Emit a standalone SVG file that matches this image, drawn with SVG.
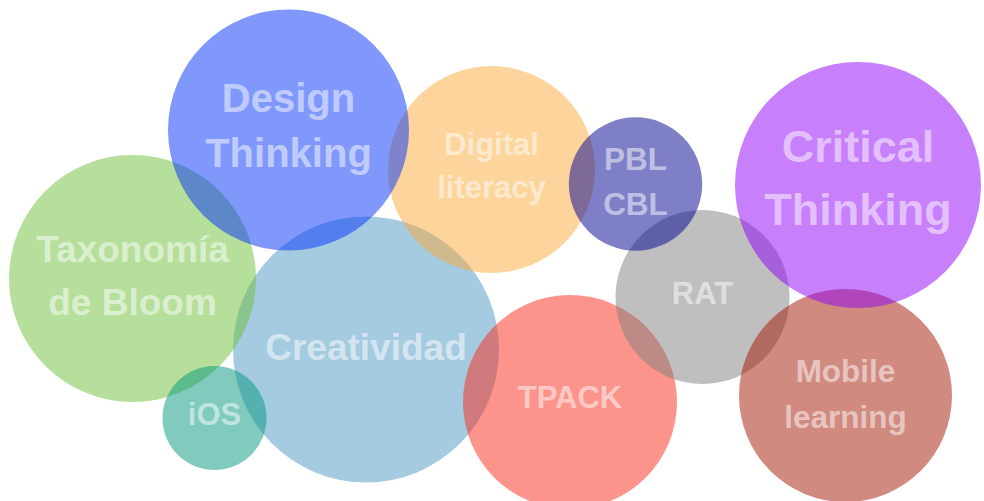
<svg xmlns="http://www.w3.org/2000/svg" width="984" height="501" viewBox="0 0 984 501">
<style>
.b{opacity:0.5}
.t{font-family:"Liberation Sans",Arial,Helvetica,sans-serif;font-weight:bold;fill:#ffffff;fill-opacity:0.5;text-anchor:middle}
</style>
<rect width="984" height="501" fill="#ffffff"/>
<g id="creatividad">
<circle class="b" cx="366" cy="349.5" r="133" fill="#4b97c3"/>
<text class="t" font-size="37" x="366" y="360">Creatividad</text>
</g>
<g id="taxonomia">
<circle class="b" cx="132.5" cy="278.5" r="123.5" fill="#6dbf37"/>
<text class="t" font-size="37" x="132.5" y="262">Taxonomía</text>
<text class="t" font-size="37" x="132.5" y="315">de Bloom</text>
</g>
<g id="ios">
<circle class="b" cx="214.5" cy="418" r="52" fill="#01977d"/>
<text class="t" font-size="31" x="214.5" y="425">iOS</text>
</g>
<g id="tpack">
<circle class="b" cx="570" cy="402" r="107" fill="#fb2919"/>
<text class="t" font-size="31" x="570" y="408">TPACK</text>
</g>
<g id="rat">
<circle class="b" cx="702.5" cy="297" r="87" fill="#7f7f7f"/>
<text class="t" font-size="31" x="702.5" y="304">RAT</text>
</g>
<g id="mobile-learning">
<circle class="b" cx="845.5" cy="395.5" r="106.5" fill="#a11500"/>
<text class="t" font-size="31.5" x="845.5" y="382">Mobile</text>
<text class="t" font-size="31.5" x="845.5" y="428">learning</text>
</g>
<g id="critical-thinking">
<circle class="b" cx="858" cy="185" r="123" fill="#8f00f9"/>
<text class="t" font-size="45" x="858" y="162">Critical</text>
<text class="t" font-size="45" x="858" y="225">Thinking</text>
</g>
<g id="digital-literacy">
<circle class="b" cx="491.5" cy="169.5" r="103.5" fill="#fba939"/>
<text class="t" font-size="31" x="491.5" y="155">Digital</text>
<text class="t" font-size="31" x="491.5" y="198">literacy</text>
</g>
<g id="pbl-cbl">
<circle class="b" cx="635.5" cy="184" r="66.7" fill="#000091"/>
<text class="t" font-size="31.5" x="635.5" y="170">PBL</text>
<text class="t" font-size="31.5" x="635.5" y="215">CBL</text>
</g>
<g id="design-thinking">
<circle class="b" cx="288.5" cy="130" r="120.5" fill="#0131f9"/>
<text class="t" font-size="40" x="288.5" y="112">Design</text>
<text class="t" font-size="40" x="288.5" y="167">Thinking</text>
</g>
<g id="connectors"></g>
</svg>
